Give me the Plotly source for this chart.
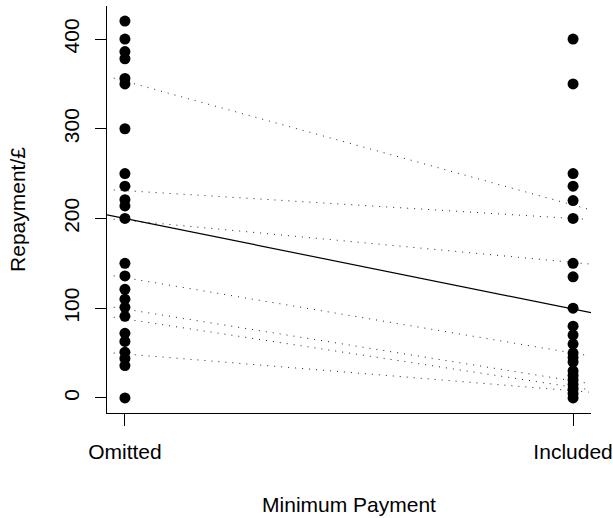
import plotly.graph_objects as go

categories = ["Omitted", "Included"]
omitted_values = [420, 400, 386, 378, 356, 350, 300, 250, 236, 221, 214, 200,
                  150, 136, 121, 110, 101, 91, 72, 63, 51, 44, 36, 0]
included_values = [400, 350, 250, 236, 220, 200, 150, 135, 100, 80, 70, 60,
                   50, 45, 40, 30, 25, 20, 15, 10, 5, 0]
# dotted individual lines: value at Omitted, value at Included
dotted_omitted = [353, 231, 198, 134, 99, 88, 49]
dotted_included = [215, 200, 151, 50, 19, 12, 8]
# overall (solid) line
solid_omitted = 200
solid_included = 99
y_ticks = [0, 100, 200, 300, 400]

FONT = "Liberation Sans, Arial, Helvetica, sans-serif"
fig = go.Figure()

x0, x1 = -0.04, 1.04
def line_at(a, b, x):
    return a + (b - a) * x

# dotted lines
dx0, dx1 = -0.025, 1.035
for a, b in zip(dotted_omitted, dotted_included):
    fig.add_trace(go.Scatter(
        x=[dx0, dx1], y=[line_at(a, b, dx0), line_at(a, b, dx1)],
        mode="lines", line=dict(color="#222222", width=1, dash="1px,6px"),
        showlegend=False, hoverinfo="skip"))

# solid line across plot region
fig.add_trace(go.Scatter(
    x=[x0, x1], y=[line_at(solid_omitted, solid_included, x0),
                   line_at(solid_omitted, solid_included, x1)],
    mode="lines", line=dict(color="black", width=1.2),
    showlegend=False, hoverinfo="skip"))

# points
fig.add_trace(go.Scatter(
    x=[0] * len(omitted_values), y=omitted_values, mode="markers",
    marker=dict(color="black", size=11), showlegend=False))
fig.add_trace(go.Scatter(
    x=[1] * len(included_values), y=included_values, mode="markers",
    marker=dict(color="black", size=11), showlegend=False))

fig.update_layout(
    width=613, height=518,
    margin=dict(l=107, r=22, t=6, b=105),
    paper_bgcolor="white", plot_bgcolor="white",
    font=dict(family=FONT, size=21, color="black"),
    xaxis=dict(range=[x0, x1], tickvals=[0, 1], ticktext=categories,
               automargin=False,
               showgrid=False, zeroline=False, showline=True, linecolor="black",
               linewidth=1, ticks="outside", ticklen=12, tickcolor="black",
               ticklabelstandoff=8,
               title=dict(text="Minimum Payment", standoff=35,
                          font=dict(size=21))),
    yaxis=dict(range=[-16.8, 436.8], tickvals=y_ticks,
               automargin=False,
               showgrid=False, zeroline=False, showline=True, linecolor="black",
               linewidth=1, ticks="outside", ticklen=11, tickcolor="black",
               tickangle=-90, ticklabelstandoff=8,
               title=dict(text="Repayment/£", standoff=28,
                          font=dict(size=21))),
)

fig.write_html("out.html", config={"displayModeBar": False},
               post_script="document.body.style.margin='0';document.body.style.padding='0';")
